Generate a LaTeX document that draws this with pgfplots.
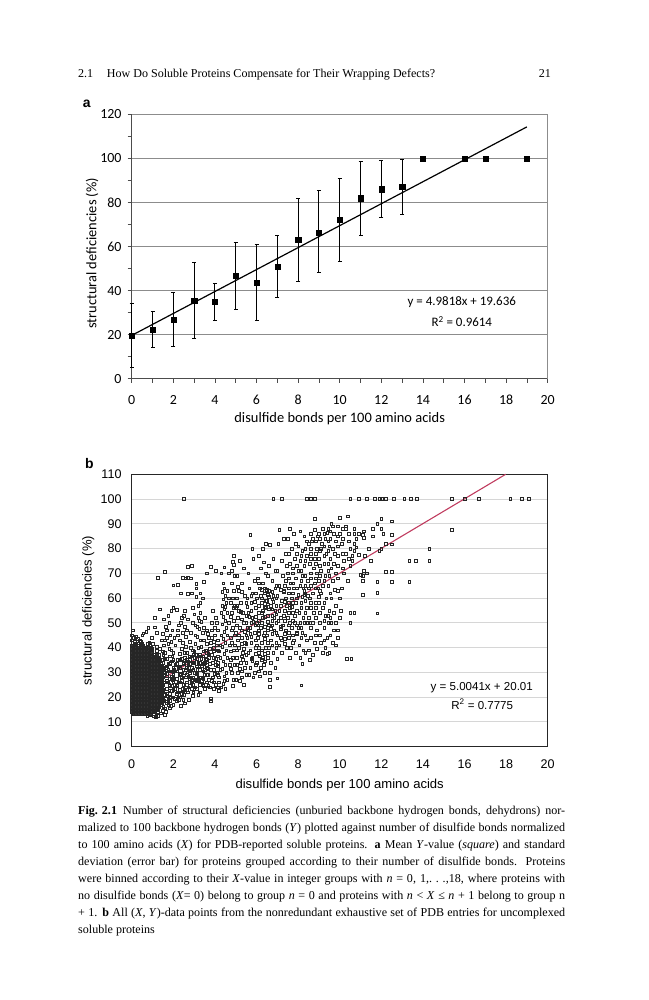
\documentclass[border=0pt]{standalone}
\usepackage{pgfplots}
\pgfplotsset{compat=1.18}
\usepackage{fontspec}
\setmainfont{Liberation Serif}
\newfontfamily\carlito{Carlito}
\newfontfamily\arial{Liberation Sans}
\definecolor{trendred}{RGB}{192,60,95}
\begin{document}
\begin{tikzpicture}
\path[use as bounding box] (0,0) rectangle (649bp,1000bp);
% running head
\node[anchor=base west, inner sep=0, font=\fontsize{12.1}{14}\selectfont] at (78bp,922bp) {2.1};
\node[anchor=base west, inner sep=0, font=\fontsize{12.1}{14}\selectfont] at (106.7bp,922bp) {How Do Soluble Proteins Compensate for Their Wrapping Defects?};
\node[anchor=base east, inner sep=0, font=\fontsize{12.1}{14}\selectfont] at (551bp,922bp) {21};
% panel letters
\node[anchor=base west, inner sep=0, font=\arial\bfseries\fontsize{14}{16}\selectfont] at (82.7bp,892.7bp) {a};
\node[anchor=base west, inner sep=0, font=\arial\bfseries\fontsize{14}{16}\selectfont] at (85bp,531bp) {b};

% ---------------- panel a ----------------
\begin{axis}[
  at={(131.7bp,621.3bp)}, anchor=south west,
  scale only axis, width=416bp, height=264.4bp,
  xmin=0, xmax=20, ymin=0, ymax=120,
  clip=false,
  axis x line*=bottom, axis y line*=left,
  axis line style={-, black!70, line width=1bp},
  xtick={0,2,...,20}, ytick={0,20,...,120},
  minor x tick num=1, minor y tick num=1,
  tick align=outside, major tick length=4bp, minor tick length=4bp,
  every tick/.style={black!70, line width=0.8bp},
  ymajorgrids, grid style={black!45, line width=0.7bp},
  /pgf/number format/assume math mode=true,
  tick label style={font=\carlito\fontsize{14}{16}\selectfont, inner sep=0pt},
  yticklabel style={anchor=east, xshift=-6bp},
  xticklabel style={anchor=north, yshift=-12.3bp},
  xlabel={disulfide bonds per 100 amino acids},
  ylabel={structural deficiencies (\%)},
  label style={font=\carlito\fontsize{14.5}{16}\selectfont, inner sep=0pt},
  xlabel style={at={([yshift=-44.3bp]axis description cs:0.5,0)}, anchor=base},
  ylabel style={at={([xshift=-39.7bp]axis description cs:0,0.474)}, anchor=center},
]
\draw[black!45, line width=0.7bp] (axis cs:20,0) -- (axis cs:20,120);
\addplot[black, line width=1.2bp, no marks] coordinates {(0,19.636) (19,114.29)};
\addplot[black, only marks, mark=square*, mark size=2.6bp,
  error bars/.cd, y dir=both, y explicit,
  error bar style={line width=1bp, black},
  error mark options={rotate=90, mark size=2bp, line width=1bp, black}]
  table[x=x, y=y, y error plus=ep, y error minus=em] {
x y ep em
0 19.4 14.9 14.4
1 22.2 8.2 8.1
2 26.8 12.2 12.1
3 35.4 17.4 17.1
4 34.8 8.5 8.5
5 46.6 15.3 15.1
6 43.6 17.2 17.0
7 50.8 14.1 14.0
8 63.0 18.7 18.8
9 66.4 18.8 18.4
10 72.0 18.9 18.9
11 81.9 16.8 17.0
12 86.0 12.8 12.8
13 87.0 12.6 12.5
};
\addplot[black, only marks, mark=square*, mark size=2.6bp] coordinates {(14,100) (16,100) (17,100) (19,100)};
\node[font=\carlito\fontsize{13}{15}\selectfont] at (axis cs:15.87,34.7) {y = 4.9818x + 19.636};
\node[font=\carlito\fontsize{13}{15}\selectfont] at (axis cs:15.87,25.9) {R\textsuperscript{2} = 0.9614};
\end{axis}

% ---------------- panel b ----------------
\begin{axis}[
  at={(131.7bp,253.3bp)}, anchor=south west,
  scale only axis, width=416bp, height=272.4bp,
  xmin=0, xmax=20, ymin=0, ymax=110,
  clip=false,
  axis line style={black!85, line width=1.1bp},
  xtick={0,2,...,20}, ytick={0,10,...,110},
  major tick length=0pt,
  ymajorgrids, grid style={black!16, line width=1bp},
  /pgf/number format/assume math mode=true,
  tick label style={font=\arial\fontsize{12.6}{14}\selectfont, inner sep=0pt},
  yticklabel style={anchor=east, xshift=-10bp},
  xticklabel style={anchor=north, yshift=-13.3bp},
  xlabel={disulfide bonds per 100 amino acids},
  ylabel={structural deficiencies (\%)},
  label style={font=\arial\fontsize{13.1}{15}\selectfont, inner sep=0pt},
  xlabel style={at={([yshift=-42.3bp]axis description cs:0.5,0)}, anchor=base},
  ylabel style={at={([xshift=-43.4bp]axis description cs:0,0.5)}, anchor=center},
]
% dense core of the cloud (overlapping squares)
\addplot[only marks, mark=square*, mark size=1.35bp, mark options={draw=black!85, fill=black!80, line width=0.5bp}] coordinates {
(0,14)(0,15.5)(0,17)(0,18.5)(0,20)(0,21.5)(0,23)(0,24.5)(0,26)(0,27.5)(0,29)(0,30.5)(0,32)(0,33.5)(0,35)(0,36.5)(0,38)(0,39.5)(0,41)
(0.07,13.2)(0.07,14.7)(0.07,16.2)(0.07,17.7)(0.07,19.2)(0.07,20.7)(0.07,22.2)(0.07,23.7)(0.07,25.2)(0.07,26.7)(0.07,28.2)(0.07,29.7)(0.07,31.2)(0.07,32.7)(0.07,34.2)(0.07,35.7)(0.07,37.2)(0.07,38.7)(0.07,40.2)
(0.14,14)(0.14,15.5)(0.14,17)(0.14,18.5)(0.14,20)(0.14,21.5)(0.14,23)(0.14,24.5)(0.14,26)(0.14,27.5)(0.14,29)(0.14,30.5)(0.14,32)(0.14,33.5)(0.14,35)(0.14,36.5)(0.14,38)(0.14,39.5)(0.14,41)
(0.21,13.2)(0.21,14.7)(0.21,16.2)(0.21,17.7)(0.21,19.2)(0.21,20.7)(0.21,22.2)(0.21,23.7)(0.21,25.2)(0.21,26.7)(0.21,28.2)(0.21,29.7)(0.21,31.2)(0.21,32.7)(0.21,34.2)(0.21,35.7)(0.21,37.2)(0.21,38.7)(0.21,40.2)
(0.28,14)(0.28,15.5)(0.28,17)(0.28,18.5)(0.28,20)(0.28,21.5)(0.28,23)(0.28,24.5)(0.28,26)(0.28,27.5)(0.28,29)(0.28,30.5)(0.28,32)(0.28,33.5)(0.28,35)(0.28,36.5)(0.28,38)(0.28,39.5)
(0.35,13.2)(0.35,14.7)(0.35,16.2)(0.35,17.7)(0.35,19.2)(0.35,20.7)(0.35,22.2)(0.35,23.7)(0.35,25.2)(0.35,26.7)(0.35,28.2)(0.35,29.7)(0.35,31.2)(0.35,32.7)(0.35,34.2)(0.35,35.7)(0.35,37.2)(0.35,38.7)(0.35,40.2)
(0.42,14)(0.42,15.5)(0.42,17)(0.42,18.5)(0.42,20)(0.42,21.5)(0.42,23)(0.42,24.5)(0.42,26)(0.42,27.5)(0.42,29)(0.42,30.5)(0.42,32)(0.42,33.5)(0.42,35)(0.42,36.5)(0.42,38)(0.42,39.5)(0.42,41)
(0.49,13.2)(0.49,14.7)(0.49,16.2)(0.49,17.7)(0.49,19.2)(0.49,20.7)(0.49,22.2)(0.49,23.7)(0.49,25.2)(0.49,26.7)(0.49,28.2)(0.49,29.7)(0.49,31.2)(0.49,32.7)(0.49,34.2)(0.49,35.7)(0.49,37.2)(0.49,38.7)(0.49,40.2)
(0.56,14)(0.56,15.5)(0.56,17)(0.56,18.5)(0.56,20)(0.56,21.5)(0.56,23)(0.56,24.5)(0.56,26)(0.56,27.5)(0.56,29)(0.56,30.5)(0.56,32)(0.56,33.5)(0.56,35)(0.56,36.5)(0.56,38)(0.56,39.5)
(0.63,13.2)(0.63,14.7)(0.63,16.2)(0.63,17.7)(0.63,19.2)(0.63,20.7)(0.63,22.2)(0.63,23.7)(0.63,25.2)(0.63,26.7)(0.63,28.2)(0.63,29.7)(0.63,31.2)(0.63,32.7)(0.63,34.2)(0.63,35.7)(0.63,37.2)(0.63,38.7)
(0.70,14)(0.70,15.5)(0.70,17)(0.70,18.5)(0.70,20)(0.70,21.5)(0.70,23)(0.70,24.5)(0.70,26)(0.70,27.5)(0.70,29)(0.70,30.5)(0.70,32)(0.70,33.5)(0.70,35)(0.70,36.5)(0.70,38)
(0.77,13.2)(0.77,14.7)(0.77,16.2)(0.77,17.7)(0.77,19.2)(0.77,20.7)(0.77,22.2)(0.77,23.7)(0.77,25.2)(0.77,26.7)(0.77,28.2)(0.77,29.7)(0.77,31.2)(0.77,32.7)(0.77,34.2)(0.77,35.7)(0.77,37.2)(0.77,38.7)(0.77,40.2)
(0.84,14)(0.84,15.5)(0.84,17)(0.84,18.5)(0.84,20)(0.84,21.5)(0.84,23)(0.84,24.5)(0.84,26)(0.84,27.5)(0.84,29)(0.84,30.5)(0.84,32)(0.84,33.5)(0.84,35)(0.84,36.5)
(0.91,13.2)(0.91,14.7)(0.91,16.2)(0.91,17.7)(0.91,19.2)(0.91,20.7)(0.91,22.2)(0.91,23.7)(0.91,25.2)(0.91,26.7)(0.91,28.2)(0.91,29.7)(0.91,31.2)(0.91,32.7)(0.91,34.2)(0.91,35.7)(0.91,37.2)(0.91,38.7)
(0.98,14)(0.98,15.5)(0.98,17)(0.98,18.5)(0.98,20)(0.98,21.5)(0.98,23)(0.98,24.5)(0.98,26)(0.98,27.5)(0.98,29)(0.98,30.5)(0.98,32)(0.98,33.5)(0.98,35)(0.98,36.5)(0.98,38)
(1.05,14.7)(1.05,16.2)(1.05,17.7)(1.05,19.2)(1.05,20.7)(1.05,22.2)(1.05,23.7)(1.05,25.2)(1.05,26.7)(1.05,28.2)(1.05,29.7)(1.05,31.2)(1.05,32.7)(1.05,34.2)(1.05,35.7)
(1.12,15.5)(1.12,17)(1.12,18.5)(1.12,20)(1.12,21.5)(1.12,23)(1.12,24.5)(1.12,26)(1.12,27.5)(1.12,29)(1.12,30.5)(1.12,32)(1.12,33.5)(1.12,35)
(1.19,16.2)(1.19,17.7)(1.19,19.2)(1.19,20.7)(1.19,22.2)(1.19,23.7)(1.19,25.2)(1.19,26.7)(1.19,28.2)(1.19,29.7)(1.19,31.2)(1.19,32.7)(1.19,34.2)(1.19,35.7)(1.19,37.2)
(1.26,17)(1.26,18.5)(1.26,20)(1.26,21.5)(1.26,23)(1.26,24.5)(1.26,26)(1.26,27.5)(1.26,29)(1.26,30.5)(1.26,32)(1.26,33.5)
(1.33,17.7)(1.33,19.2)(1.33,20.7)(1.33,22.2)(1.33,23.7)(1.33,25.2)(1.33,26.7)(1.33,28.2)(1.33,29.7)(1.33,31.2)(1.33,32.7)
};
% the rest of the cloud (open squares)
\addplot[only marks, mark=square, mark size=1.35bp, mark options={black!85, line width=0.5bp}] coordinates {
(0.14,42.5)(0.21,41.7)(0.28,41)(0.42,42.5)(0.49,41.7)(0.56,41)(0.63,40.2)(0.70,39.5)(0.77,41.7)(0.84,38)(0.91,40.2)(0.98,39.5)(1.05,13.2)(1.05,37.2)(1.12,14)(1.12,36.5)(1.19,14.7)(1.19,38.7)(1.26,15.5)(1.26,35)(1.33,16.2)(1.33,34.2)(1.33,35.7)(1.33,37.2)
(1.40,17)(1.40,18.5)(1.40,20)(1.40,21.5)(1.40,23)(1.40,24.5)(1.40,26)(1.40,27.5)(1.40,29)(1.40,30.5)(1.40,32)(1.40,33.5)
(1.47,17.7)(1.47,19.2)(1.47,20.7)(1.47,22.2)(1.47,23.7)(1.47,25.2)(1.47,26.7)(1.47,28.2)(1.47,29.7)(1.47,31.2)(1.47,32.7)
(1.05,12.3)(1.15,12.1)(1.25,12.6)(0.9,12.8)(0.75,12.5)(1.6,13)(1.25,14)(1.5,14.5)(1.4,13.5)
(0.1,44)(0.2,44.5)(0.4,42.8)(0.55,45.8)(0.85,42)(1.0,41.5)(1.2,40.5)(1.35,39.5)(0,43)(0,45)(0.05,47)
(1.52,16)(1.52,19)(1.52,22)(1.52,25)(1.52,28)(1.52,31)(1.52,34)(1.52,37)
(1.68,17.5)(1.68,20.5)(1.68,23.5)(1.68,26.5)(1.68,29.5)(1.68,32.5)(1.68,35.5)
(1.84,15.5)(1.84,18.5)(1.84,21.5)(1.84,24.5)(1.84,27.5)(1.84,30.5)(1.84,33.5)(1.84,36.5)
(2.0,17)(2.0,20)(2.0,23)(2.0,26)(2.0,29)(2.0,32)(2.0,35)
(2.16,18.5)(2.16,21.5)(2.16,24.5)(2.16,27.5)(2.16,30.5)(2.16,33.5)
(2.32,20)(2.32,23)(2.32,26)(2.32,29)(2.32,32)(2.32,35)
(2.48,19)(2.48,22)(2.48,25)(2.48,28)(2.48,31)(2.48,34)
(2.64,23)(2.64,26)(2.64,29)(2.64,32)(2.64,35)
(2.8,24.5)(2.8,27.5)(2.8,30.5)(2.8,33.5)(2.8,36.5)
(2.96,22)(2.96,25)(2.96,28)(2.96,31)(2.96,34)(2.96,37)
(3.12,23.5)(3.12,26.5)(3.12,29.5)(3.12,32.5)(3.12,35.5)
(3.28,22)(3.28,25)(3.28,28)(3.28,31)(3.28,34)(3.28,37)
(3.44,24.5)(3.44,27.5)(3.44,30.5)(3.44,33.5)(3.44,36.5)
(3.6,26)(3.6,29)(3.6,32)(3.6,35)(3.6,38)
(1.6,21)(1.6,30)(1.76,19)(1.76,26)(1.76,31)(1.92,22.5)(1.92,28.5)(1.92,34.5)(2.08,19.5)(2.08,25)(2.08,30.5)(2.24,20)(2.24,26)(2.24,32)(2.4,21.5)(2.4,28)(2.4,35.5)(2.56,23)(2.56,30)(2.56,38)
(2.72,24)(2.72,28.5)(2.72,33)(2.88,26)(2.88,32)(3.04,24)(3.04,30)(3.04,36)(3.2,28)(3.2,34)(3.36,26.5)(3.36,32.5)(3.52,29)(3.52,34)(3.68,24.5)(3.68,37.5)
(1.6,70.7)(1.25,68.1)(2.0,65.2)(1.9,55)(1.75,53)(1.55,51.5)(1.8,50)(1.65,48.5)(1.95,47)(1.5,45.5)(1.7,44)(1.9,42.5)(1.55,41)(1.8,39.5)(1.6,38)(1.95,36.5)(1.5,35)(1.75,33.5)(1.65,32)(1.9,30.5)(1.55,29)(1.8,27.5)(1.6,26)(1.95,24.5)(1.5,23)(1.7,21.5)(1.85,20)(1.55,18.5)(1.75,17)(1.6,15.5)(1.9,16.5)(1.65,14)(1.8,22.8)(1.6,35.5)(1.85,34)(1.7,28.5)(1.95,27)(1.55,31.5)(1.8,25)(1.65,19.5)(1.5,38.5)(1.9,39)(1.75,41.5)(1.6,43)(1.85,45)(1.7,47)(1.1,52)(1.1,48.2)(1.35,55.5)(0.8,48)(0.5,45)(1.2,46)(0.95,44)(0.3,43.5)(0.7,46.5)(1.45,43)
(2.9,73)(2.7,72.8)(2.45,68.1)(2.7,68.1)(2.85,68)(2.6,68)(2.2,65.3)(2.35,62)(2.7,61.9)(2.9,62)(3.3,62)(2.15,55.2)(2.0,56)(2.5,53)(2.7,51.5)(2.35,50)(2.55,48.5)(2.2,47)(2.45,46)(2.6,44.5)(2.3,43)(2.8,42.5)(2.1,41)(2.4,39.5)(2.65,38)(2.9,36.5)(2.2,35)(2.5,33.5)(2.75,32)(2.05,31)(2.35,29.5)(2.6,28)(2.9,26.5)(2.15,25)(2.45,23.5)(2.7,22)(2.95,20.5)(2.25,19)(2.55,17.5)(2.35,16.5)(2.8,30)(2.55,36)(2.3,37.5)(2.7,34.5)(2.1,33)(2.85,28)(2.4,26.5)(2.65,25)(2.9,23.5)(2.2,22)(2.5,21)(2.0,27.5)(2.75,19)(2.0,38)(2.6,40.5)(2.85,46)(2.95,50)(2.4,52)(2.2,45)(2.95,39)(2.1,23.5)(2.6,31)(2.3,32.5)(2.8,35)
(2.05,44)(2.25,49)(2.45,42)(2.65,47)(2.85,40)(3.05,45)(3.25,51)(3.45,48)(3.65,45.5)(3.85,50)(4.05,52)(4.15,47)(2.55,55)(2.95,56)(3.2,57)
(3.1,65.7)(3.1,64)(3.45,66.5)(3.6,70)(3.1,60.6)(3.3,58)(3.4,60)(3.0,53.5)(3.2,52)(3.35,50.5)(3.05,49)(3.25,47.5)(3.4,46)(3.15,44.5)(3.3,43)(3.05,41.5)(3.2,40)(3.45,38.5)(3.1,37)(3.35,35.5)(3.0,34)(3.25,32.5)(3.5,31)(3.1,29.5)(3.4,28)(3.2,26.5)(3.55,25)(3.0,23.5)(3.3,22)(3.6,33)(3.7,36)(3.55,39)(3.65,29)(3.7,27)(3.5,23.5)(3.6,41.5)(3.7,44)(3.35,40.5)(3.25,36.5)(3.45,33.5)(3.15,31)(3.4,25)(3.65,31.5)(3.55,35.5)(3.05,27)(3.2,21)(3.0,38.5)(3.45,43)(3.6,47)(3.15,48.5)(3.3,54)(3.5,52)
(3.8,72.8)(4.05,71)(3.9,55)(4.1,50)(3.85,47)(4.0,45)(4.15,43)(3.8,42)(3.95,40)(4.2,38.5)(3.85,37)(4.05,35.5)(3.9,34)(4.15,32.5)(3.8,31)(4.0,29.5)(4.2,28)(3.85,26.5)(4.05,25)(3.95,23.5)(4.2,22.5)(3.8,19.5)(3.8,18.6)(4.1,30)(3.9,28)(4.05,33)(4.15,36.5)(3.95,38.5)(4.1,41)(3.85,44)(4.0,48)(4.2,26)
(3.75,24)(3.75,33.5)(3.75,39.5)(3.95,26)(3.95,31)(3.95,36)(3.95,42.5)(4.15,24)(4.15,29)(4.15,34)(4.15,39)(4.25,31)(4.25,41)
(4.4,66)(4.45,64)(4.35,62.5)(4.5,61)(4.4,59.5)(4.55,58)(4.35,57)(4.45,55.5)(4.6,54)(4.4,52.5)(4.5,51)(4.35,49.5)(4.55,48)(4.45,46.5)(4.6,45)(4.4,43.5)(4.5,42)(4.35,40.5)(4.55,39)(4.45,37.5)(4.6,36)(4.4,34.5)(4.5,33)(4.35,31.5)(4.55,30)(4.45,28.5)(4.6,27)(4.4,25.5)(4.3,24)(4.5,23.5)(4.65,60)(4.65,50)(4.7,41)(4.3,54)(4.3,45)(4.7,33)(4.25,36)(4.6,63)(4.5,56.5)(4.45,26.5)(4.3,70)(4.45,72.5)(4.65,70)
(4.9,77)(4.85,74.7)(4.9,73.5)(4.8,71)(4.95,69)(4.8,66)(4.9,63)(4.85,60)(4.95,57)(4.8,54)(4.9,51)(4.85,48)(4.95,45)(4.8,42)(4.9,39)(4.85,36)(4.95,33)(4.8,30)(4.9,27)(4.85,24.5)(4.95,41)(4.8,47)(4.9,56)
(4.75,31.5)(4.75,35)(4.75,38.5)(4.75,44)(4.75,52.5)(4.75,58)
(5.2,75)(5.4,72)(5.05,69)(5.3,66)(5.15,63)(5.45,61)(5.25,58)(5.0,56)(5.35,54)(5.1,52)(5.4,50)(5.2,48)(5.0,46)(5.3,44)(5.45,42)(5.15,40)(5.35,38)(5.05,36)(5.25,34)(5.45,32)(5.1,30)(5.3,28)(5.2,26.5)(5.4,25)(5.0,27)(5.25,54.5)(5.45,46.5)(5.1,43)(5.35,35)(5.2,31.5)(5.05,57)(5.4,39.5)
(5.05,33)(5.05,39)(5.05,49)(5.05,60)(5.1,64.5)(5.15,45)(5.15,55)(5.3,30.5)(5.3,36.5)(5.3,41.5)(5.3,51.5)(5.3,47)(5.3,62.5)
(5.7,85.5)(5.8,80)(5.85,76)(5.6,70)(5.9,67)(5.65,64)(5.8,62)(5.55,60)(5.75,58)(5.95,56)(5.6,54)(5.8,52)(5.5,50)(5.7,48)(5.9,46)(5.55,44)(5.75,42)(5.95,40)(5.6,38)(5.8,36)(5.5,34)(5.7,32)(5.9,30)(5.65,29)(5.85,28)(5.75,44.5)(5.6,47)(5.85,50.5)(5.55,56.5)(5.9,58.5)(5.7,39)(5.8,34.5)(5.65,52.5)(5.95,49)(5.5,41.5)
(5.5,29)(5.5,37)(5.5,45)(5.5,53)(5.5,58)(5.55,48)(5.75,35.5)(5.75,50)(5.75,55)(5.75,61)(5.7,45.5)(5.95,33)(5.95,37.5)(5.95,43)(5.95,52.5)(5.95,62)
(6.3,80)(6.1,77)(6.35,74.5)(6.2,72)(6.45,70)(6.05,68)(6.3,66)(6.15,64)(6.4,62)(6.0,60)(6.25,58)(6.45,56)(6.1,54)(6.3,52)(6.0,50)(6.2,48)(6.4,46)(6.05,44)(6.25,42)(6.45,40)(6.1,38)(6.3,36)(6.0,34)(6.2,32)(6.4,30)(6.15,28.5)(6.35,45)(6.05,49)(6.3,55)(6.2,61)(6.4,52.5)(6.0,41)(6.15,36.5)(6.35,33)(6.45,59)(6.25,63.5)(6.1,47)(6.4,43.5)
(6.1,30.5)(6.1,40)(6.1,45.5)(6.1,51)(6.1,57)(6.1,66)(6.25,35)(6.25,39)(6.25,50)(6.25,54)(6.25,60)(6.4,37.5)(6.4,48.5)(6.4,56.5)(6.4,64)(6.4,34.5)
(6.65,81.5)(6.45,82)(6.8,76)(6.6,73)(6.9,71)(6.55,69)(6.75,67)(6.95,65)(6.6,63)(6.8,61)(6.5,59)(6.7,57)(6.9,55)(6.55,53)(6.75,51)(6.6,49)(6.85,47)(6.5,45)(6.7,43)(6.95,42)(6.6,40)(6.8,38)(6.55,36)(6.7,34)(6.9,32)(6.65,30)(6.65,27)(7.0,27.6)(6.65,24.2)(6.8,58.5)(6.6,55.5)(6.85,52)(6.5,63.5)(6.75,45.5)(6.6,60.5)(6.9,64)(6.7,47.5)
(6.55,42)(6.55,47)(6.55,50.5)(6.55,57.5)(6.55,61.5)(6.55,38)(6.75,41)(6.75,49)(6.75,53)(6.75,55.5)(6.75,59.5)(6.75,62.5)(6.95,46)(6.95,50)(6.95,53.5)(6.95,57)(6.95,60)(6.95,40)
(7.1,87.5)(7.3,84)(7.05,82)(7.4,78)(7.2,75)(7.45,73)(7.0,71)(7.25,69)(7.4,67)(7.1,65)(7.3,63)(7.0,61)(7.2,59)(7.45,57)(7.1,55)(7.3,53)(7.05,51)(7.25,49)(7.4,47)(7.0,45)(7.2,43)(7.35,43.5)(7.1,41)(7.45,40)(7.2,38)(7.0,35.5)(7.3,62.5)(7.4,60)(7.15,52)(7.35,55)
(7.15,44)(7.15,47.5)(7.15,57)(7.15,63.5)(7.15,48.5)(7.35,45.5)(7.35,51)(7.35,58.5)(7.35,65)(7.35,41.5)
(7.6,88)(7.8,86)(7.5,84)(7.9,82)(7.7,80)(7.55,78)(7.85,76)(7.6,74)(7.75,72)(7.5,70)(7.9,68)(7.65,66)(7.8,64)(7.55,62)(7.7,60)(7.9,58)(7.6,56)(7.75,54)(7.5,52)(7.85,50)(7.6,50)(7.7,48)(7.95,46)(7.55,44)(7.8,43)(7.65,40)(7.9,38)(7.6,36)(7.75,42)(7.95,45.5)(7.7,56.5)(7.85,53)
(7.55,46)(7.55,49)(7.55,54)(7.55,58)(7.55,64)(7.55,68)(7.75,45)(7.75,51)(7.75,58)(7.75,62)(7.75,66)(7.75,70)(7.95,49)(7.95,55)(7.95,60)(7.95,64)(7.95,73)(7.95,78)
(8.1,87)(8.3,85)(8.4,83)(8.0,81)(8.2,79)(8.4,77)(8.1,75)(8.3,73)(8.0,71)(8.2,69)(8.45,67)(8.1,65)(8.3,63)(8.0,61.5)(8.2,60.5)(8.35,62)(8.15,58)(8.4,56)(8.05,54)(8.25,52)(8.1,50)(8.3,50)(8.45,50)(8.0,48)(8.2,46)(8.4,43)(8.05,41)(8.25,39)(8.35,38)(8.1,36)(8.2,33.5)(8.15,24.8)(8.45,61)(8.3,61.5)(8.25,64)
(8.15,44)(8.15,48)(8.15,56)(8.15,67)(8.15,71)(8.15,77)(8.35,45)(8.35,54)(8.35,59)(8.35,65)(8.35,69)(8.35,75)(8.35,80)
(8.8,92)(8.6,86)(8.8,87.5)(8.7,84)(8.5,82)(8.9,80)(8.6,78)(8.8,76)(8.55,74)(8.75,72)(8.9,70)(8.6,68)(8.8,66)(8.5,64)(8.7,62)(8.55,60)(8.85,58)(8.6,56)(8.75,54)(8.5,52)(8.7,50)(8.55,50)(8.9,47)(8.6,44)(8.8,42)(8.5,39)(8.7,37)(8.55,35)(8.9,39.5)(8.65,83)(8.95,85)
(8.6,48)(8.6,58)(8.6,65)(8.6,70)(8.6,76)(8.6,80)(8.85,45)(8.85,52)(8.85,56)(8.85,64)(8.85,68)(8.85,74)(8.85,78)(8.85,83)
(9.0,86)(9.2,88)(9.3,84)(9.1,80)(9.35,78)(9.0,76)(9.25,74)(9.1,71)(9.3,69)(9.0,67)(9.2,65)(9.1,62)(9.35,60)(9.0,58)(9.2,56)(9.3,53)(9.05,50)(9.25,48)(9.4,44)(9.1,42)(9.3,40)(9.2,38)(9.4,37.5)(9.0,60.5)(8.95,64)(9.15,82)(9.4,86.5)(9.45,71)
(9.05,45)(9.05,54)(9.05,63)(9.05,69)(9.05,73)(9.05,79)(9.05,84)(9.25,43)(9.25,51)(9.25,58)(9.25,67)(9.25,77)(9.25,81)(9.25,86)(9.45,53)(9.45,65)(9.45,74)(9.45,79)(9.45,83)(9.45,88)
(9.6,90)(9.65,89)(9.55,87)(9.7,86)(9.55,84)(9.8,83)(9.5,81)(9.65,80)(9.75,78)(9.55,76)(9.7,74)(9.6,72)(9.8,70)(9.5,69)(9.65,67)(9.75,63.5)(9.55,62)(9.6,60)(9.8,57)(9.5,55)(9.7,54)(9.55,52)(9.6,50)(9.8,50)(9.45,50)(9.7,47)(9.55,45)(9.65,42)(9.5,38)(9.8,41)
(9.9,63)(9.9,68)(9.9,73)(9.9,77)(9.9,81)(9.9,85)(9.9,89)(10.15,78)(10.15,84)(10.15,88)(10.15,72)(10.45,76)(10.45,83)(10.45,86)(10.7,79)(10.7,82)(10.7,86)
(10.3,78)(10.1,82)(10.0,86)(10.3,88)(10.0,92.5)(10.4,93)(10.3,89)(10.5,54)(10.7,54)(10.5,50)(10.1,64)(10.0,60)(10.05,55)(10.0,52)(9.9,47)(9.9,44)(10.35,35.5)(10.55,35.5)
(10.9,86)(10.7,88)(10.8,84)(10.5,80)(10.6,77)(10.6,75)(10.5,73)(10.9,77.5)(11.3,70)(11.0,69.5)(10.2,70)(10.4,67)(10.2,75)(10.8,80.5)
(12.5,91)(12.5,85.6)(12.5,81.7)(12.5,70.6)(12.5,66.5)(12.2,70.6)(11.8,53.9)(11.8,62.3)(11.8,66.5)(11.1,61.4)(11.1,67)(11.1,69)(11.15,71)(11.2,77)(11.4,80)(11.6,85)(11.5,75)(11.8,90)(12.0,92)(12.0,88)(12.1,86)(12.0,80)(11.9,79)(12.2,82)(11.6,88)(11.1,85.5)(11.15,87)(11.15,84.5)
(15.4,87.5)(14.3,80)(13.35,75)(13.65,75)(14.3,75)(13.35,66.5)
(2.5,100)(6.8,100)(7.2,100)(8.4,100)(8.6,100)(8.8,100)(10.5,100)(10.9,100)(11.3,100)(11.7,100)(11.9,100)(12.05,100)(12.2,100)(12.6,100)(13.1,100)(13.4,100)(13.7,100)(15.4,100)(16.0,100)(16.7,100)(18.2,100)(18.75,100)(19.1,100)
};
\addplot[trendred, line width=1.1bp, no marks] coordinates {(0,20.01) (17.98,110)};
\node[font=\arial\fontsize{11.6}{14}\selectfont] at (axis cs:16.83,23.8) {y = 5.0041x + 20.01};
\node[font=\arial\fontsize{11.6}{14}\selectfont] at (axis cs:16.85,17.2) {R\textsuperscript{2} = 0.7775};
\end{axis}

% caption
\node[anchor=north west, inner sep=0, text width=487bp, align=justify, font=\fontsize{12.1}{17.1}\selectfont] at (78bp,194.5bp) {%
\mbox{\textbf{Fig. 2.1}}\enspace Number of structural deficiencies (unburied backbone hydrogen bonds, dehydrons) nor-\linebreak
malized to 100 backbone hydrogen bonds (\textit{Y}) plotted against number of disulfide bonds normalized\linebreak
to 100 amino acids (\textit{X}) for PDB-reported soluble proteins. \textbf{a} Mean \textit{Y}-value (\textit{square}) and standard\linebreak
deviation (error bar) for proteins grouped according to their number of disulfide bonds. Proteins\linebreak
were binned according to their \textit{X}-value in integer groups with \textit{n}~=~0, 1,.~.~.,18, where proteins with\linebreak
no disulfide bonds (\textit{X}=~0) belong to group \textit{n}~=~0 and proteins with \textit{n}~<~\textit{X}~≤~\textit{n}~+~1 belong to group n\linebreak
+~1. \textbf{b} All (\textit{X}, \textit{Y})-data points from the nonredundant exhaustive set of PDB entries for uncomplexed\linebreak
soluble proteins};
\end{tikzpicture}
\end{document}
